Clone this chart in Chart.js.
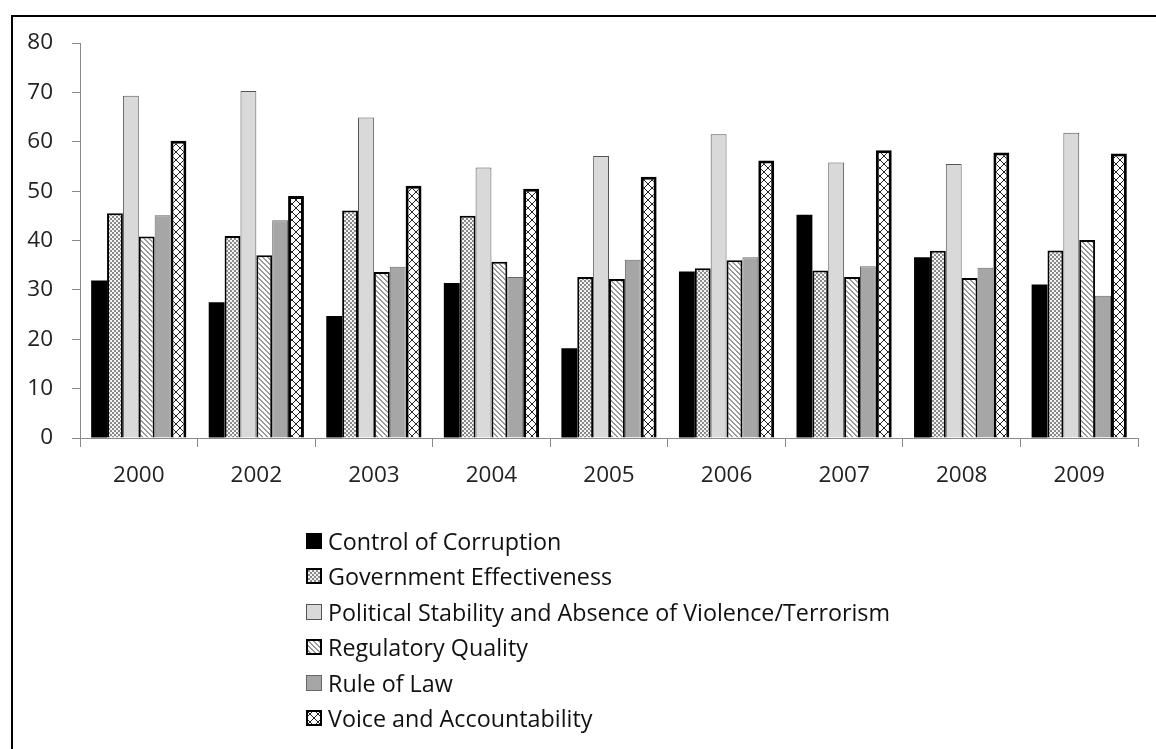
<!DOCTYPE html>
<html>
<head>
<meta charset="utf-8">
<script src="https://cdn.jsdelivr.net/npm/chart.js@4.4.1/dist/chart.umd.min.js"></script>
<style>
  html, body { margin: 0; padding: 0; background: #fff; width: 1156px; height: 749px; overflow: hidden; }
  #frame { position: absolute; left: 11px; top: 15px; width: 3000px; height: 3000px; border-top: 2px solid #000; border-left: 2px solid #000; }
  #wrap { position: absolute; left: 0; top: 0; width: 1156px; height: 500px; }
  #legend { position: absolute; left: 306px; top: 523px; font-family: "Open Sans", Lato, sans-serif; font-size: 23.3px; color: #111; }
  .item { height: 35.5px; display: flex; align-items: center; white-space: nowrap; }
  .item canvas { width: 16px; height: 16px; margin-right: 6px; display: block; }
</style>
</head>
<body>
<div id="frame"></div>
<div id="wrap"><canvas id="c"></canvas></div>
<div id="legend"></div>
<script>
// ---- data ----
const years = ["2000", "2002", "2003", "2004", "2005", "2006", "2007", "2008", "2009"];
const seriesNames = [
  "Control of Corruption",
  "Government Effectiveness",
  "Political Stability and Absence of Violence/Terrorism",
  "Regulatory Quality",
  "Rule of Law",
  "Voice and Accountability"
];
const controlOfCorruption     = [31.9, 27.5, 24.7, 31.4, 18.2, 33.7, 45.2, 36.6, 31.1];
const governmentEffectiveness = [45.5, 40.9, 46.1, 45.0, 32.6, 34.4, 33.9, 37.9, 38.0];
const politicalStability      = [69.3, 70.3, 64.9, 54.8, 57.1, 61.5, 55.8, 55.5, 61.8];
const regulatoryQuality       = [40.8, 37.0, 33.6, 35.7, 32.2, 36.0, 32.6, 32.4, 40.1];
const ruleOfLaw               = [45.1, 44.1, 34.7, 32.6, 36.1, 36.6, 34.8, 34.5, 28.8];
const voiceAccountability     = [60.2, 49.0, 51.1, 50.5, 52.9, 56.2, 58.3, 57.8, 57.6];
const yTicks = [0, 10, 20, 30, 40, 50, 60, 70, 80];

// ---- patterns ----
function makeTile(size, draw) {
  const t = document.createElement('canvas');
  t.width = size; t.height = size;
  const g = t.getContext('2d');
  draw(g, size);
  return t;
}
const tileChecker = makeTile(4, (g) => {
  g.fillStyle = '#f4f4f4'; g.fillRect(0, 0, 4, 4);
  g.fillStyle = '#8a8a8a'; g.fillRect(0, 0, 2, 2); g.fillRect(2, 2, 2, 2);
});
const tileDiag = makeTile(5, (g, s) => {
  g.fillStyle = '#fff'; g.fillRect(0, 0, s, s);
  g.fillStyle = '#9a9a9a';
  for (let i = 0; i < s; i++) { g.fillRect(i, i, 1, 1); g.fillRect((i + 1) % s, i, 1, 1); }
});
const tileCross = makeTile(8, (g, s) => {
  g.fillStyle = '#fff'; g.fillRect(0, 0, s, s);
  g.fillStyle = '#222';
  for (let i = 0; i < s; i++) { g.fillRect(i, i, 1, 1); g.fillRect(s - 1 - i, i, 1, 1); }
});
const pctx = document.createElement('canvas').getContext('2d');
const fills = [
  '#000000',
  pctx.createPattern(tileChecker, 'repeat'),
  '#d9d9d9',
  pctx.createPattern(tileDiag, 'repeat'),
  '#a6a6a6',
  pctx.createPattern(tileCross, 'repeat')
];
const borders = ['#000000', '#000000', '#555555', '#000000', '#666666', '#000000'];
const borderWidths = [0, 2, 1, 2, 1, 3];
const values = [controlOfCorruption, governmentEffectiveness, politicalStability, regulatoryQuality, ruleOfLaw, voiceAccountability];

const datasets = seriesNames.map((name, i) => ({
  label: name,
  data: values[i],
  backgroundColor: fills[i],
  borderColor: borders[i],
  borderWidth: borderWidths[i],
  borderSkipped: 'start',
  categoryPercentage: 0.81,
  barPercentage: 1.0
}));

const tickFont = { family: '"Open Sans", Lato, sans-serif', size: 22.5 };

new Chart(document.getElementById('c'), {
  type: 'bar',
  data: { labels: years, datasets },
  options: {
    responsive: true,
    maintainAspectRatio: false,
    animation: false,
    layout: { padding: { top: 43, right: 18, left: 0, bottom: 0 } },
    plugins: { legend: { display: false }, tooltip: { enabled: false } },
    scales: {
      x: {
        grid: { display: true, drawOnChartArea: false, drawTicks: true, tickLength: 9, color: '#8a8a8a', offset: true },
        border: { display: true, color: '#8a8a8a', width: 1 },
        ticks: { font: tickFont, color: '#222', padding: 15 },
        afterFit(scale) { scale.height = 62; }
      },
      y: {
        min: 0, max: 80,
        afterBuildTicks(scale) { scale.ticks = yTicks.map(v => ({ value: v })); },
        grid: { display: true, drawOnChartArea: false, drawTicks: true, tickLength: 8, color: '#8a8a8a' },
        border: { display: true, color: '#8a8a8a', width: 1 },
        ticks: { font: tickFont, color: '#222', padding: 19 },
        afterFit(scale) { scale.width = 80; }
      }
    }
  }
});

// ---- legend (HTML, real text) ----
const legend = document.getElementById('legend');
seriesNames.forEach((name, i) => {
  const row = document.createElement('div');
  row.className = 'item';
  const sw = document.createElement('canvas');
  sw.width = 16; sw.height = 16;
  const g = sw.getContext('2d');
  g.fillStyle = fills[i];
  g.fillRect(0, 0, 16, 16);
  const bw = i === 0 ? 1 : (i === 2 || i === 4 ? 1 : 2);
  g.strokeStyle = i === 0 ? '#000' : borders[i];
  g.lineWidth = bw;
  g.strokeRect(bw / 2, bw / 2, 16 - bw, 16 - bw);
  row.appendChild(sw);
  const span = document.createElement('span');
  span.textContent = name;
  row.appendChild(span);
  legend.appendChild(row);
});
</script>
</body>
</html>
